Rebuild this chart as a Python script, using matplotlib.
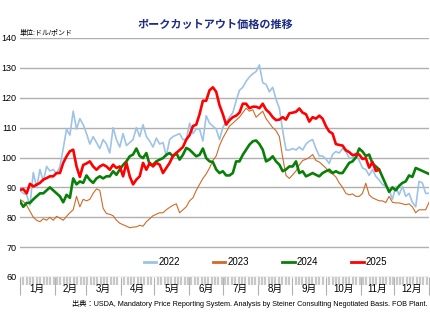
import numpy as np
import matplotlib
matplotlib.use("Agg")
import matplotlib.pyplot as plt
from matplotlib.lines import Line2D

plt.rcParams["font.family"] = ["Liberation Sans", "Noto Sans CJK JP", "DejaVu Sans"]

# pork cutout value, USD/lb, read roughly every 3 days through the year
price_2022 = [
    89, 88, 87.5, 84, 95, 90, 96, 92, 97, 95.5, 96, 94.5, 97, 103, 109.5, 107.5,
    115.5, 109.5, 113, 111, 108, 104.5, 107, 105, 103, 106, 104.5, 101.5, 110, 106,
    103.5, 108, 104, 105, 106, 110, 107, 111, 107, 105.5, 103.5, 106.5, 104.5, 105,
    100.5, 106, 107, 107.5, 108, 106, 106, 111.5, 108, 109.5, 109.5, 105.5, 114,
    111.5, 110.5,
    109.5, 106, 110, 112, 113.5, 115, 119, 122.5, 123.5, 125.5, 127, 128, 128.8,
    131, 125, 124.5, 122, 123.5, 119.5, 116.5, 109, 102.5, 102.5, 103, 102.5, 103.5,
    102.5, 104.5, 105.5, 106, 103, 100.5, 100.5, 99.5, 98, 101, 102, 101.5, 103,
    102, 99.8, 99.8, 101.5, 99, 96.5, 96, 94, 96, 93.7, 92.5, 91, 90.3, 89.2, 86,
    90.3, 87.5, 90.3, 87, 88, 85, 83.5, 92, 91.5, 88, 88,
]
price_2023 = [
    85.9, 85.3, 84, 82, 80, 79, 78.5, 79.5, 79, 80, 79, 80.3, 79.7, 79, 80.3, 81.5,
    82.5, 87, 83.5, 86, 85.5, 86, 88, 89.5, 89, 83, 81.2, 81, 80.5, 79, 78, 77.5,
    77, 76.5, 76.7, 76.8, 77.3, 77, 78.5, 79.5, 80.5, 81, 81.5, 81.5, 82.5, 83.3,
    84, 84.5, 81.5, 82.5, 83.5, 85.5, 86.5, 89, 91, 93, 94.5, 96.5, 99,
    100.5, 104, 106.5, 108.5, 110.5, 111.5, 112.5, 113.5, 115, 116.5, 115.5, 116,
    113.5, 114.5, 115.5, 113, 111.5, 110, 109, 107, 100, 94, 93, 94.2, 95.5, 97.5,
    99, 99.4, 100, 101, 99, 98.5, 97.5, 96.5, 95, 94.5, 93.5, 91.5, 90, 88, 87.5,
    87.8, 87, 87, 88, 91.4, 87.5, 86.5, 86, 85.5, 85.5, 84.9, 87, 85, 84.8, 84.8,
    84.5, 84.2, 84.5, 83.5, 81.5, 82.5, 82.5, 82.5, 85,
]
price_2024 = [
    85.3, 83.5, 84.8, 84.8, 86, 87, 88, 88, 89, 90, 89, 88, 87, 85, 87.5, 86.5, 93,
    91, 92, 91.5, 94, 92.5, 91.5, 93, 93.7, 93, 93.7, 93.7, 95.4, 94.2, 96, 97.5,
    98.7, 100.4, 101, 103, 100.5, 99.8, 101.5, 97.6, 97.6, 98.7, 99.3, 99.8, 100.9,
    101.5, 100.4, 101.5, 99.3, 100.9, 103.2, 102.6, 101.5, 100.4, 100.9, 103, 99.8,
    98.7, 98.5,
    96, 94.8, 95.4, 94, 94, 94.8, 98.7, 98.7, 100.9, 102.6, 104.3, 105.4, 105.7,
    104.5, 102.6, 98.7, 99.3, 100.4, 98.7, 97.6, 95.4, 96, 97, 97, 98.7, 94.8, 95.4,
    93.7, 94.2, 94.8, 94.2, 93.7, 94.8, 95.4, 95.9, 94.8, 95.4, 94.8, 94.8, 96.5,
    98.2, 98.7, 100, 103, 102, 100.5, 101, 98, 97, 96, 93.5, 91, 88.5, 90, 89, 90.5,
    91.5, 92, 94, 93.5, 96.5, 96, 95.5, 95, 94.5,
]
price_2025 = [
    89.2, 89.4, 88, 91.2, 90.3, 90.9, 91.5, 92.6, 93.1, 93.7, 93.7, 94.8, 94.8,
    98.2, 100.4, 102.1, 102.6, 97, 93.5, 97.5, 98, 98.7, 97, 95.9, 97, 97.6, 97,
    95.9, 97.6, 96.5, 97, 93.7, 98.2, 93.7, 91, 92.6, 93.7, 98.2, 95.9, 98.2, 97,
    98.2, 97.6, 94.8, 96.5, 98.2, 100.5, 101.5, 102.5, 103.5, 106, 107.5, 110.5,
    111, 114.5, 119, 119, 122.5, 123.5,
    122, 117.5, 114.5, 111, 112.5, 113.5, 114, 115, 118, 118, 116.5, 117, 117,
    116.5, 118, 116, 115, 113.5, 112.5, 112.7, 113.5, 112.7, 114.8, 115, 115.3,
    116.4, 115, 114.5, 112, 113.5, 113, 114, 113, 110.5, 108.7, 108, 104.5, 104.2,
    104, 102.4, 101.8, 100.8, 101, 101, 99.5, 99.8, 96.6, 98.5, 95.5, 95.9,
]

days = np.linspace(0, 365, len(price_2022))
years = ["2022", "2023", "2024", "2025"]
colors = ["#9dc3e6", "#d06a26", "#088008", "#ff0000"]
widths = [1.2, 0.8, 1.9, 1.9]

month_starts = [0, 31, 59, 90, 120, 151, 181, 212, 243, 273, 304, 334, 365]
month_labels = [f"{m}月" for m in range(1, 13)]

fig = plt.figure(figsize=(4.3, 3.3), dpi=100)
ax = fig.add_axes([20 / 430, 1 - 277 / 330, 409 / 430, 239 / 330])

for year, series, color, lw in zip(years, [price_2022, price_2023, price_2024, price_2025], colors, widths):
    ax.plot(days[:len(series)], series, color=color, lw=lw, solid_joinstyle="round")

ax.set_xlim(0, 365)
ax.set_ylim(60, 140)
ax.set_yticks(range(60, 141, 10))
ax.yaxis.grid(True, color="#b0b0b0", lw=1.0)
ax.set_axisbelow(True)
for side in ax.spines:
    ax.spines[side].set_visible(False)
ax.tick_params(axis="y", length=0, pad=2.5, labelsize=6.5)

ax.set_xticks(month_starts)
ax.set_xticklabels([])
ax.set_xticks(np.arange(0, 366, 3), minor=True)
ax.tick_params(axis="x", which="major", length=13, width=0.8, color="#b0b0b0")
ax.tick_params(axis="x", which="minor", length=6, width=1.6, color="#c8c8c8")
for i, lab in enumerate(month_labels):
    ax.text((month_starts[i] + month_starts[i + 1]) / 2, -0.05, lab,
            transform=ax.get_xaxis_transform(), ha="center", va="center", fontsize=7)

handles = [Line2D([], [], color=c, lw=2) for c in colors]
ax.legend(handles, years, ncol=4, loc="center", bbox_to_anchor=(0.60, 0.063),
          frameon=False, fontsize=7, handlelength=1.3, handletextpad=0.2, columnspacing=3.4)

fig.text(0.5, 1 - 25 / 330, "ポークカットアウト価格の推移", ha="center", va="center",
         fontsize=8, fontweight="bold", color="#1f2c84")
fig.text(20 / 430, 1 - 33 / 330, "単位:ドル/ポンド", ha="left", va="center", fontsize=5)
fig.text(428 / 430, 1 - 304 / 330,
         "出典：USDA, Mandatory Price Reporting System. Analysis by Steiner Consulting Negotiated Basis. FOB Plant.",
         ha="right", va="center", fontsize=5.2)

fig.savefig("out.png", dpi=100)
